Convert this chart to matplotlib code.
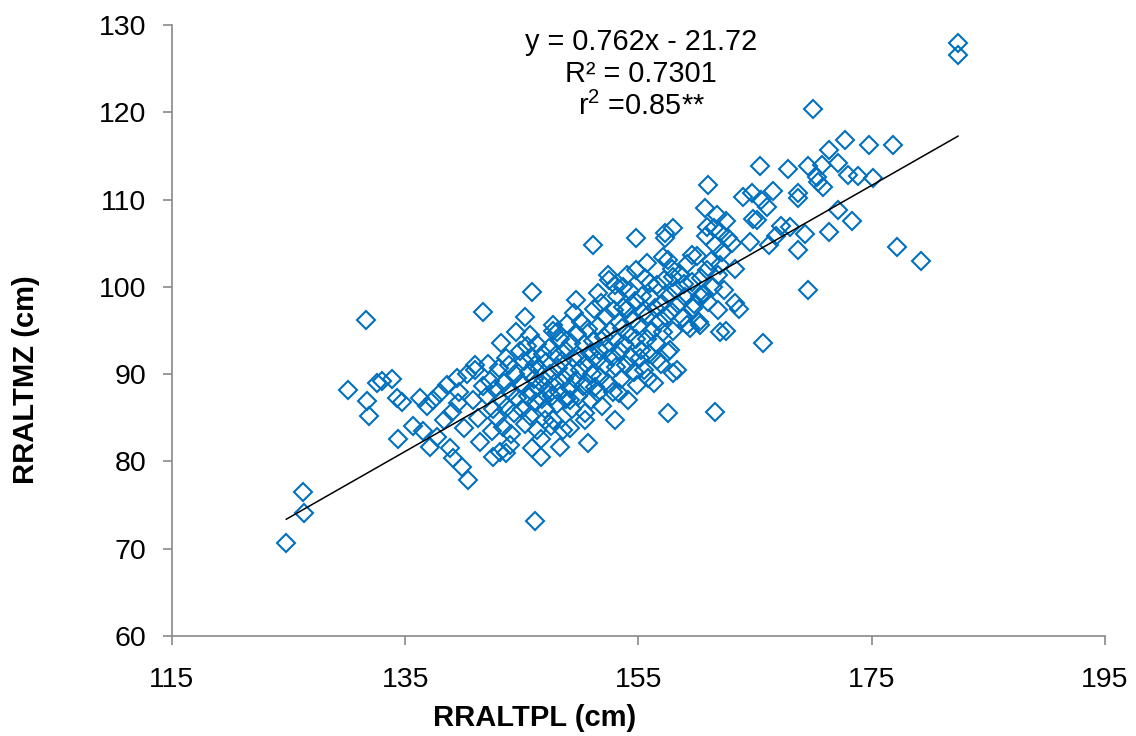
import numpy as np
import matplotlib
matplotlib.use("Agg")
import matplotlib.pyplot as plt

plt.rcParams['font.family'] = ['Liberation Sans', 'DejaVu Sans']
plt.rcParams['mathtext.fontset'] = 'custom'
plt.rcParams['mathtext.rm'] = 'Liberation Sans'
plt.rcParams['mathtext.it'] = 'Liberation Sans'

# sparse points on the left
left_pts = [
    (124.8, 70.7), (126.3, 74.1), (126.2, 76.5), (130.1, 88.2), (131.6, 96.2),
    (131.7, 86.9), (131.9, 85.2), (132.6, 89.0), (133.0, 89.2), (133.9, 89.5),
    (134.3, 87.3), (134.7, 86.8), (134.4, 82.6), (135.7, 84.1), (136.3, 87.3),
    (136.9, 86.3), (137.4, 87.0), (136.5, 83.5), (137.1, 81.6), (139.4, 89.6),
    (141.0, 90.5), (138.6, 88.8), (139.6, 88.0), (138.3, 84.7), (139.5, 86.7),
    (140.4, 77.9), (139.9, 79.4), (139.1, 80.4), (138.8, 81.5), (137.7, 82.8),
    (138.0, 87.8), (139.0, 85.7), (140.0, 83.8), (141.4, 82.2), (141.7, 97.1),
]

# main cluster
mid_pts = [
    (142.0, 87.5), (142.3, 89.2), (142.5, 86.0), (142.7, 88.3), (142.9, 85.0),
    (143.0, 90.7), (143.2, 87.0), (143.4, 84.0), (143.5, 89.0), (143.7, 86.2),
    (143.9, 91.0), (144.0, 88.0), (144.1, 83.1), (144.3, 85.5), (144.4, 90.0),
    (144.6, 87.3), (144.8, 92.6), (144.9, 89.0), (142.4, 83.5), (143.6, 81.0),
    (142.1, 91.2), (141.7, 88.6), (141.2, 85.0), (140.8, 87.0), (140.3, 90.0),
    (141.0, 91.0), (142.5, 80.5), (143.1, 81.1), (144.0, 81.9), (145.9, 81.5),
    (146.6, 80.5), (146.3, 83.6), (147.0, 84.8), (143.2, 93.6), (143.6, 91.9),
    (144.5, 94.8), (145.7, 94.5), (145.3, 96.6), (145.9, 99.4), (147.7, 95.6),
    (148.0, 94.8), (146.1, 73.2),
    (145.0, 86.0), (145.1, 88.8), (145.2, 91.5), (145.3, 84.3), (145.4, 93.2),
    (145.5, 87.5), (145.6, 90.2), (145.7, 85.2), (145.8, 92.0), (145.9, 88.0),
    (146.0, 89.5), (146.1, 91.0), (146.2, 86.8), (146.3, 93.5), (146.4, 88.5),
    (146.5, 90.6), (146.6, 82.6), (146.7, 87.2), (146.8, 92.3), (146.9, 89.3),
    (147.0, 86.0), (147.1, 91.4), (147.2, 88.2), (147.3, 93.0), (147.4, 90.0),
    (147.5, 84.1), (147.6, 87.5), (147.7, 95.0), (147.8, 89.0), (147.9, 92.2),
    (148.0, 86.6), (148.1, 90.7), (148.2, 88.0), (148.3, 94.0), (148.4, 91.5),
    (148.5, 83.6), (148.6, 89.5), (148.7, 92.8), (148.8, 87.2), (148.9, 95.8),
    (149.0, 90.3), (149.1, 88.4), (149.2, 93.6), (149.3, 86.0), (149.4, 91.8),
    (149.5, 97.0), (149.6, 89.3), (149.7, 94.6), (149.8, 87.5), (149.9, 92.0),
    (150.0, 90.5), (150.1, 96.0), (150.2, 88.6), (150.3, 93.5), (150.4, 85.6),
    (150.5, 91.2), (150.6, 89.0), (150.7, 95.2), (150.8, 92.4), (150.9, 87.0),
    (151.0, 90.0), (151.1, 93.8), (151.2, 97.5), (151.3, 88.5), (151.4, 91.6),
    (151.5, 95.5), (151.6, 92.8), (151.7, 89.7), (151.8, 98.2), (151.9, 86.4),
    (152.0, 94.2), (152.1, 91.0), (152.2, 96.6), (152.3, 93.0), (152.4, 89.0),
    (152.5, 100.8), (152.6, 95.0), (152.7, 92.0), (152.8, 88.0), (152.9, 97.3),
    (153.0, 94.0), (153.1, 90.8), (153.2, 99.0), (153.3, 96.0), (153.4, 92.6),
    (153.5, 89.5), (153.6, 95.3), (153.7, 100.0), (153.8, 93.5), (153.9, 91.0),
    (154.0, 97.5), (154.1, 87.0), (154.2, 94.6), (154.3, 99.5), (154.4, 92.0),
    (154.5, 96.3), (154.6, 90.2), (154.7, 98.4), (154.8, 94.0), (154.9, 88.8),
    (155.0, 95.5), (155.2, 92.8), (155.3, 99.0), (155.4, 97.0), (155.5, 90.5),
    (155.6, 101.0), (155.7, 94.0), (155.8, 96.8), (155.9, 92.3), (156.0, 98.8),
    (156.2, 95.0), (156.3, 89.0), (156.4, 97.6), (156.5, 93.6), (156.6, 100.2),
    (156.8, 96.0), (156.9, 91.2),
    (150.7, 82.1), (148.3, 81.7), (153.0, 84.8), (150.4, 84.8), (149.1, 83.8),
    (147.7, 84.8), (153.3, 87.8), (151.5, 87.8), (149.1, 87.0), (155.8, 89.6),
    (157.5, 85.6), (155.1, 91.9), (156.6, 91.6),
    (151.1, 104.8), (154.8, 105.6), (157.3, 105.6), (155.7, 102.7), (152.4, 101.4),
    (154.0, 101.4), (154.8, 101.9), (149.6, 98.5), (151.5, 99.3), (153.7, 97.7),
    (157.1, 103.4), (153.0, 100.2), (156.0, 100.4),
]

# upper right part
right_pts = [
    (157.0, 98.0), (157.1, 94.8), (157.2, 100.8), (157.4, 96.5), (157.5, 92.5),
    (157.6, 99.0), (157.8, 97.2), (157.9, 102.0), (158.0, 95.0), (158.2, 99.6),
    (158.3, 90.5), (158.4, 98.0), (158.6, 101.5), (158.8, 96.4), (158.9, 100.3),
    (159.0, 98.8), (159.2, 102.6), (159.4, 95.3), (159.6, 100.6), (159.8, 98.0),
    (160.0, 103.5), (160.2, 96.0), (160.4, 101.0), (160.6, 99.2), (160.8, 105.8),
    (161.0, 98.3), (161.2, 103.0), (161.5, 106.8), (161.8, 101.4), (162.2, 104.0),
    (162.5, 107.5), (163.0, 105.0), (163.3, 102.0),
    (161.0, 111.7), (160.7, 109.0), (161.7, 108.2), (158.0, 106.7), (157.3, 106.2),
    (160.9, 106.9), (162.0, 106.3), (162.7, 105.6), (161.6, 104.8), (164.6, 105.1),
    (165.2, 107.7), (157.5, 103.1), (159.6, 103.6), (162.0, 102.5), (160.9, 101.9),
    (158.0, 101.1), (161.4, 100.0), (162.3, 99.6), (160.3, 98.9), (163.3, 98.2),
    (159.7, 97.6), (161.8, 97.4), (165.7, 93.6), (161.6, 85.7), (162.0, 94.8),
    (162.5, 95.0), (160.3, 95.6), (159.2, 95.6), (158.0, 90.1), (157.7, 92.8),
    (163.6, 97.5), (164.0, 110.3), (164.7, 110.8), (164.8, 107.8), (165.4, 113.8),
    (165.5, 110.0), (166.0, 109.2), (166.2, 104.8), (166.5, 111.0), (166.8, 105.8),
    (167.2, 107.0), (167.8, 113.5), (168.0, 106.9), (168.7, 110.8), (168.7, 110.2),
    (168.7, 104.2), (169.3, 106.0), (169.5, 99.6), (169.5, 113.8), (170.0, 120.4),
    (170.3, 112.6), (170.4, 112.0), (170.7, 114.0), (170.8, 111.4), (171.3, 115.7),
    (171.3, 106.3), (172.1, 114.2), (172.1, 108.8), (172.7, 116.8), (173.0, 112.8),
    (173.3, 107.5), (173.8, 112.7), (174.8, 116.3), (175.1, 112.5), (176.8, 116.3),
    (177.2, 104.6), (179.2, 103.0), (182.4, 127.9), (182.4, 126.6),
]

slope = 0.762
intercept = -21.72
eq_lines = ["y = 0.762x - 21.72", "R² = 0.7301", "r$^2$ =0.85**"]

pts = np.array(left_pts + mid_pts + right_pts)
x = pts[:, 0]
y = pts[:, 1]

fig = plt.figure(figsize=(11.36, 7.36), dpi=100)
ax = fig.add_axes([0.1514, 0.1359, 0.8213, 0.8301])

ax.plot(x, y, linestyle='none', marker='D', markersize=9, markerfacecolor='none',
        markeredgecolor='#0070C0', markeredgewidth=1.5)
xl = np.array([x.min(), x.max()])
ax.plot(xl, slope * xl + intercept, color='black', linewidth=1.1)

ax.set_xlim(115, 195)
ax.set_ylim(60, 130)
ax.set_xticks(np.arange(115, 196, 20))
ax.set_yticks(np.arange(60, 131, 10))

for s in ['top', 'right']:
    ax.spines[s].set_visible(False)
for s in ['left', 'bottom']:
    ax.spines[s].set_color('#898989')
    ax.spines[s].set_linewidth(1.2)
ax.tick_params(direction='out', length=6.5, width=1.2, color='#898989',
               labelsize=20.5)
ax.tick_params(axis='y', pad=12)
ax.tick_params(axis='x', pad=16)

ax.set_xlabel("RRALTPL (cm)", fontsize=21, fontweight='bold', va='center')
ax.xaxis.set_label_coords(0.389, -0.134)
ax.set_ylabel("RRALTMZ (cm)", fontsize=21, fontweight='bold', va='center')
ax.yaxis.set_label_coords(-0.157, 0.42)

for txt, yy in zip(eq_lines, [0.972, 0.920, 0.867]):
    ax.text(0.503, yy, txt, transform=ax.transAxes, ha='center', va='center',
            fontsize=20.8)

fig.savefig("out.png", dpi=100)
